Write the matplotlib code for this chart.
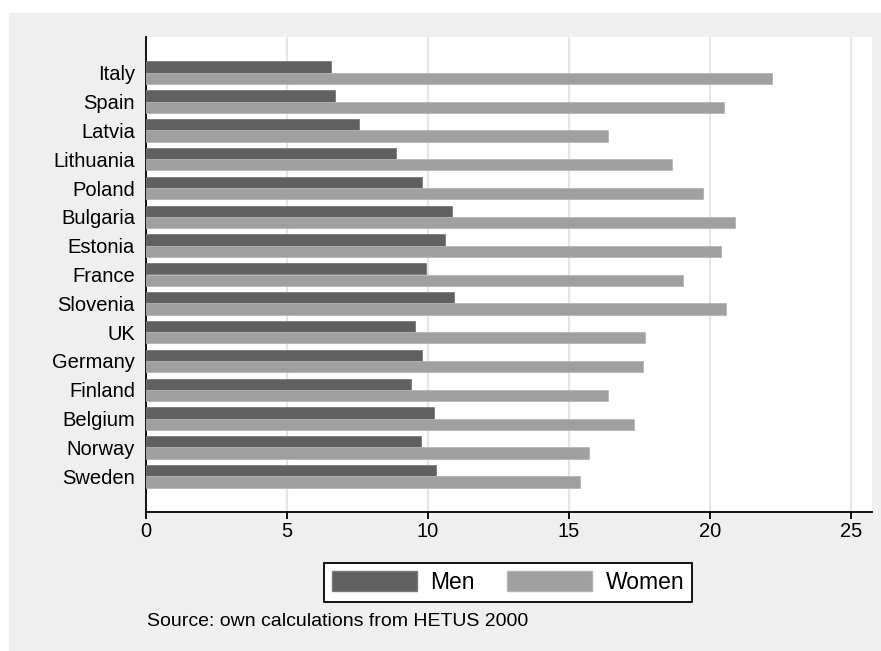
import matplotlib
matplotlib.use('Agg')
import matplotlib.pyplot as plt
from matplotlib.patches import Patch, Rectangle
import numpy as np

plt.rcParams['font.family'] = ['Liberation Sans', 'DejaVu Sans']

# Hours per week, top to bottom
countries = ['Italy', 'Spain', 'Latvia', 'Lithuania', 'Poland', 'Bulgaria',
             'Estonia', 'France', 'Slovenia', 'UK', 'Germany', 'Finland',
             'Belgium', 'Norway', 'Sweden']
men = [6.55, 6.7, 7.55, 8.86, 9.8, 10.86, 10.6, 9.94, 10.94, 9.54, 9.8,
       9.41, 10.21, 9.75, 10.28]
women = [22.2, 20.5, 16.38, 18.64, 19.77, 20.89, 20.38, 19.03, 20.57,
         17.71, 17.63, 16.38, 17.32, 15.71, 15.39]
xticks = [0, 5, 10, 15, 20, 25]

fig = plt.figure(figsize=(8.81, 6.51), dpi=100)
fig.patch.set_facecolor('white')
# grey panel behind everything
fig.patches.append(Rectangle((9 / 881, 0), 1, 1 - 12.7 / 651,
                             transform=fig.transFigure, color='#efefef',
                             zorder=-10))

ax = fig.add_axes([146 / 881, 1 - 512 / 651, (872 - 146) / 881, (512 - 37) / 651])
ax.set_facecolor('white')

y = np.arange(len(countries))
h = 0.39
ax.barh(y - h / 2, men, height=h, color='#606060', edgecolor='#7a7a7a',
        linewidth=0.6, zorder=3)
ax.barh(y + h / 2, women, height=h, color='#a0a0a0', edgecolor='#b4b4b4',
        linewidth=0.6, zorder=3)

ax.set_ylim(len(countries) - 1 + 1.24, -1.24)
ax.set_xlim(0, 25.75)
ax.set_yticks(y)
ax.set_yticklabels(countries, fontsize=14.5)
ax.set_xticks(xticks)
ax.set_xticklabels([str(t) for t in xticks], fontsize=14.5)
ax.tick_params(axis='y', length=0, pad=8)
ax.tick_params(axis='x', length=5, width=1.3, pad=2)
ax.grid(axis='x', color='#e6e6e6', linewidth=1.5, zorder=0)
ax.set_axisbelow(True)

for s in ['top', 'right']:
    ax.spines[s].set_visible(False)
for s in ['left', 'bottom']:
    ax.spines[s].set_linewidth(1.3)

handles = [Patch(facecolor='#606060', edgecolor='#7a7a7a', label='Men'),
           Patch(facecolor='#a0a0a0', edgecolor='#b4b4b4', label='Women')]
leg = fig.legend(handles=handles, loc='center', ncol=2,
                 bbox_to_anchor=(508 / 881, 1 - 582.5 / 651),
                 fontsize=16.5, frameon=True, fancybox=False,
                 handlelength=3.7, handleheight=1.0, handletextpad=0.6,
                 columnspacing=1.4, borderpad=0.35)
leg.get_frame().set_edgecolor('black')
leg.get_frame().set_linewidth(1.3)
leg.get_frame().set_alpha(1)

fig.text(147 / 881, 1 - 622 / 651, 'Source: own calculations from HETUS 2000',
         fontsize=14, ha='left', va='center')

fig.savefig('out.png', dpi=100, facecolor=fig.get_facecolor())
